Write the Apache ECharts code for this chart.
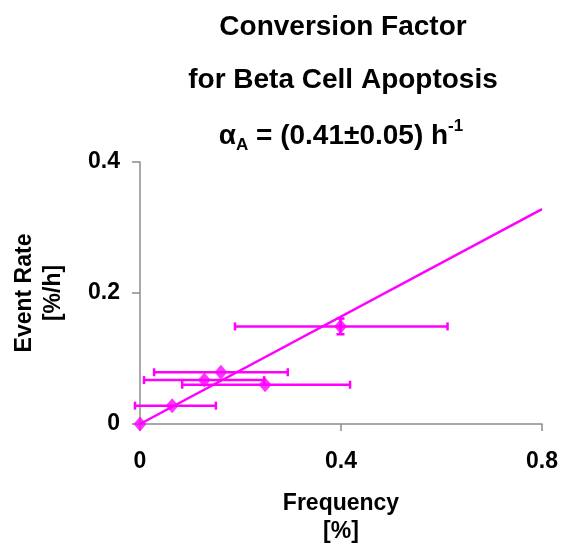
<!DOCTYPE html>
<html>
<head>
<meta charset="utf-8">
<script src="https://cdn.jsdelivr.net/npm/echarts@6/dist/echarts.min.js"></script>
<style>
  html, body { margin: 0; padding: 0; background: #ffffff; }
  #chart { width: 561px; height: 550px; }
</style>
</head>
<body>
<div id="chart"></div>
<script>
// Measured apoptosis frequency vs. event rate, with error ranges
const frequency     = [0, 0.064, 0.128, 0.161, 0.249, 0.399];
const frequencyLow  = [null, -0.010, 0.008, 0.028, 0.084, 0.189];
const frequencyHigh = [null, 0.151, 0.247, 0.294, 0.418, 0.612];
const eventRate     = [0, 0.028, 0.067, 0.079, 0.060, 0.149];
const eventRateLow  = [null, null, null, null, null, 0.137];
const eventRateHigh = [null, null, null, null, null, 0.161];

// Fitted conversion factor (line through origin)
const alphaA = 0.41;
const fitRange = [0, 0.8];

// Axis ticks
const xTicks = [0, 0.4, 0.8];
const yTicks = [0, 0.2, 0.4];

const MAGENTA = '#FF00FF';
const AXIS_GRAY = '#8c8c8c';
const FONT = '"Liberation Sans", Arial, Helvetica, sans-serif';

const points = frequency.map((f, i) => [f, eventRate[i]]);
const errorItems = frequency.map((f, i) => [
  f, eventRate[i],
  frequencyLow[i] == null ? '-' : frequencyLow[i],
  frequencyHigh[i] == null ? '-' : frequencyHigh[i],
  eventRateLow[i] == null ? '-' : eventRateLow[i],
  eventRateHigh[i] == null ? '-' : eventRateHigh[i]
]);
const fitLine = fitRange.map(x => [x, alphaA * x]);

const chart = echarts.init(document.getElementById('chart'), null, { renderer: 'canvas' });

function renderErrorBars(params, api) {
  const x = api.value(0), y = api.value(1);
  const xl = api.value(2), xh = api.value(3);
  const yl = api.value(4), yh = api.value(5);
  const style = { stroke: MAGENTA, lineWidth: 2.5, fill: null };
  const cap = 4;
  const children = [];
  if (isFinite(xl) && isFinite(xh)) {
    const a = api.coord([xl, y]), b = api.coord([xh, y]);
    children.push({ type: 'line', shape: { x1: a[0], y1: a[1], x2: b[0], y2: b[1] }, style });
    children.push({ type: 'line', shape: { x1: a[0], y1: a[1] - cap, x2: a[0], y2: a[1] + cap }, style });
    children.push({ type: 'line', shape: { x1: b[0], y1: b[1] - cap, x2: b[0], y2: b[1] + cap }, style });
  }
  if (isFinite(yl) && isFinite(yh)) {
    const a = api.coord([x, yl]), b = api.coord([x, yh]);
    children.push({ type: 'line', shape: { x1: a[0], y1: a[1], x2: b[0], y2: b[1] }, style });
    children.push({ type: 'line', shape: { x1: a[0] - cap, y1: a[1], x2: a[0] + cap, y2: a[1] }, style });
    children.push({ type: 'line', shape: { x1: b[0] - cap, y1: b[1], x2: b[0] + cap, y2: b[1] }, style });
  }
  return { type: 'group', children };
}

const titleStyle = { fontFamily: FONT, fontWeight: 'bold', fontSize: 28, fill: '#000' };

chart.setOption({
  animation: false,
  backgroundColor: '#ffffff',
  graphic: [
    { type: 'text', x: 343, y: 13, style: Object.assign({ text: 'Conversion Factor', align: 'center', verticalAlign: 'top' }, titleStyle) },
    { type: 'text', x: 343, y: 66, style: Object.assign({ text: 'for Beta Cell Apoptosis', align: 'center', verticalAlign: 'top' }, titleStyle) },
    {
      type: 'text', x: 341, y: 118,
      style: Object.assign({
        text: '{m|α}{sub|A}{m| = (0.41±0.05) h}{sup|-1}',
        align: 'center', verticalAlign: 'top',
        rich: {
          m: { fontFamily: FONT, fontWeight: 'bold', fontSize: 28, lineHeight: 36, fill: '#000' },
          sub: { fontFamily: FONT, fontWeight: 'bold', fontSize: 17, lineHeight: 17, verticalAlign: 'bottom', fill: '#000' },
          sup: { fontFamily: FONT, fontWeight: 'bold', fontSize: 17, lineHeight: 17, verticalAlign: 'top', fill: '#000' }
        }
      }, titleStyle)
    }
  ],
  grid: { left: 140, right: 19, top: 162, bottom: 126, containLabel: false },
  xAxis: {
    type: 'value',
    min: xTicks[0], max: xTicks[xTicks.length - 1], interval: xTicks[1] - xTicks[0],
    name: 'Frequency\n[%]',
    nameLocation: 'middle',
    nameGap: 66,
    nameTextStyle: { fontFamily: FONT, fontWeight: 'bold', fontSize: 23, lineHeight: 28, color: '#000' },
    axisLine: { show: true, onZero: false, lineStyle: { color: AXIS_GRAY, width: 1.5 } },
    axisTick: { show: true, inside: false, length: 7, lineStyle: { color: AXIS_GRAY, width: 1.5 } },
    axisLabel: { margin: 26, fontFamily: FONT, fontWeight: 'bold', fontSize: 23, color: '#000',
      formatter: v => String(v) },
    splitLine: { show: false }
  },
  yAxis: {
    type: 'value',
    min: yTicks[0], max: yTicks[yTicks.length - 1], interval: yTicks[1] - yTicks[0],
    name: 'Event Rate\n[%/h]',
    nameLocation: 'middle',
    nameRotate: 90,
    nameGap: 72,
    nameTextStyle: { fontFamily: FONT, fontWeight: 'bold', fontSize: 23, lineHeight: 29, color: '#000' },
    axisLine: { show: true, onZero: false, lineStyle: { color: AXIS_GRAY, width: 1.5 } },
    axisTick: { show: true, inside: false, length: 8, lineStyle: { color: AXIS_GRAY, width: 1.5 } },
    axisLabel: { margin: 20, fontFamily: FONT, fontWeight: 'bold', fontSize: 23, color: '#000',
      formatter: v => String(v) },
    splitLine: { show: false }
  },
  series: [
    {
      name: 'fit',
      type: 'line',
      data: fitLine,
      showSymbol: false,
      symbol: 'none',
      lineStyle: { color: MAGENTA, width: 2.5 },
      z: 2,
      silent: true
    },
    {
      name: 'errors',
      type: 'custom',
      data: errorItems,
      encode: { x: [0, 2, 3], y: [1, 4, 5] },
      renderItem: renderErrorBars,
      clip: false,
      z: 3,
      silent: true
    },
    {
      name: 'data',
      type: 'scatter',
      data: points,
      symbol: 'diamond',
      symbolSize: [13, 15],
      itemStyle: { color: MAGENTA },
      clip: false,
      z: 4
    }
  ]
});
</script>
</body>
</html>
